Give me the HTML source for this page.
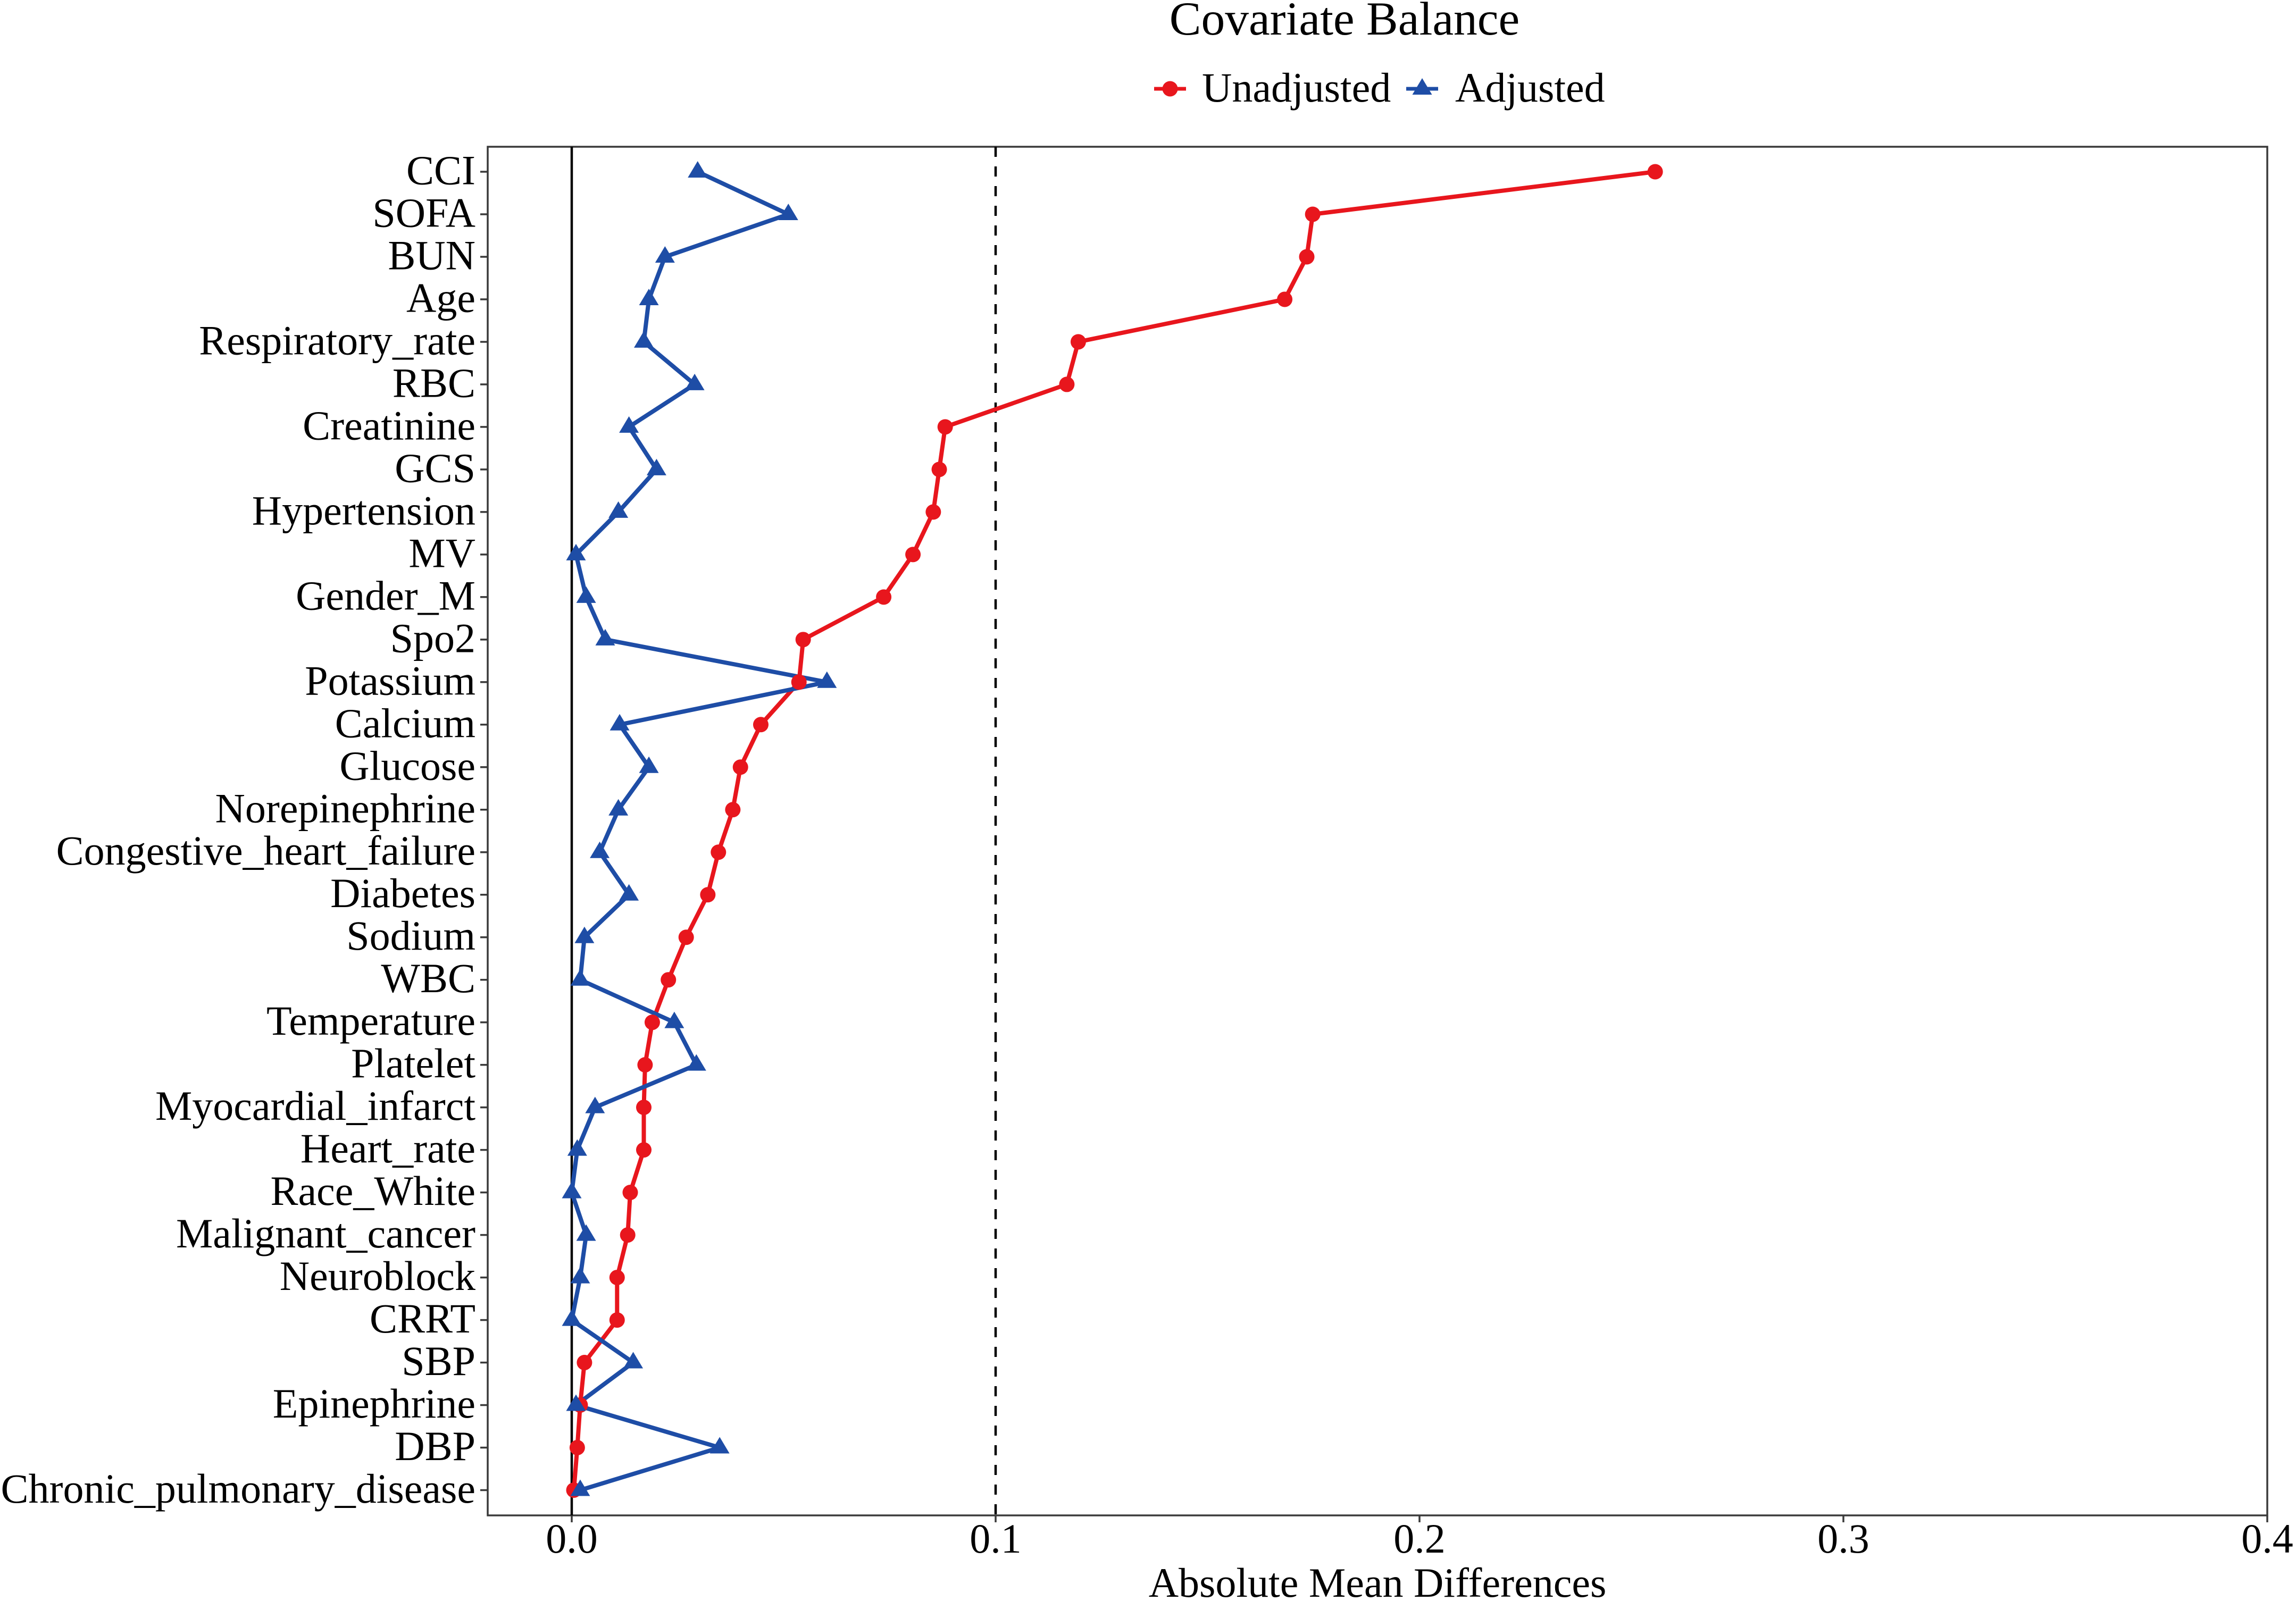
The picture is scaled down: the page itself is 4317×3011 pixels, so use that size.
<!DOCTYPE html>
<html lang="en">
<head>
<meta charset="utf-8">
<title>Covariate Balance</title>
<style>
html,body{margin:0;padding:0;background:#fff;}
body{width:4317px;height:3011px;overflow:hidden;}
svg{display:block;}
text{font-family:"Liberation Serif",serif;fill:#000;}
</style>
</head>
<body>
<svg id="chart" xmlns="http://www.w3.org/2000/svg" width="4317" height="3011" viewBox="0 0 4317 3011">
  <text x="2528" y="65" font-size="89.5" text-anchor="middle">Covariate Balance</text>
  <g>
    <g>
      <line x1="2170" x2="2230" y1="167" y2="167" stroke="#e8161d" stroke-width="7"/>
      <circle cx="2200" cy="167" r="14.5" fill="#e8161d"/>
      <text x="2260" y="191" font-size="78">Unadjusted</text>
    </g>
    <g>
      <line x1="2644" x2="2704" y1="167" y2="167" stroke="#1e4da6" stroke-width="7"/>
      <polygon points="2674,147 2692.5,178 2655.5,178" fill="#1e4da6"/>
      <text x="2736" y="191" font-size="78">Adjusted</text>
    </g>
  </g>
  <text x="2590" y="3003" font-size="78" text-anchor="middle">Absolute Mean Differences</text>
  <g id="layer-axes"></g>
  <g id="layer-lines"></g>
  <g id="layer-points"></g>
</svg>
<script>
const categories = ["CCI","SOFA","BUN","Age","Respiratory_rate","RBC","Creatinine","GCS","Hypertension","MV","Gender_M","Spo2","Potassium","Calcium","Glucose","Norepinephrine","Congestive_heart_failure","Diabetes","Sodium","WBC","Temperature","Platelet","Myocardial_infarct","Heart_rate","Race_White","Malignant_cancer","Neuroblock","CRRT","SBP","Epinephrine","DBP","Chronic_pulmonary_disease"];
const unadjusted = [0.2556,0.1748,0.1734,0.1682,0.1195,0.1168,0.0881,0.0867,0.0853,0.0805,0.0736,0.0546,0.0536,0.0446,0.0398,0.038,0.0346,0.0321,0.027,0.0228,0.019,0.0173,0.017,0.017,0.0138,0.0132,0.0107,0.0107,0.003,0.002,0.0013,0.0005];
const adjusted = [0.0297,0.0511,0.022,0.0182,0.017,0.029,0.0135,0.02,0.011,0.001,0.0034,0.0079,0.0602,0.0113,0.0182,0.011,0.0066,0.0135,0.003,0.002,0.0242,0.0294,0.0055,0.0013,0,0.0034,0.002,0,0.0145,0.001,0.0349,0.002];
const xTicks = [0,0.1,0.2,0.3,0.4];
const xTickLabels = ["0.0","0.1","0.2","0.3","0.4"];
const zeroReference = 0;
const thresholdReference = 0.1;

const NS = "http://www.w3.org/2000/svg";
const plot = {left:917, right:4263, top:276, bottom:2850};
const RED = "#e8161d";
const BLUE = "#1e4da6";

function xScale(v){ return 1075 + v * 7970; }
function yScale(i){ return 323 + i * (2802.5 - 323) / (categories.length - 1); }

function make(tag, attrs, parent){
  const el = document.createElementNS(NS, tag);
  for (const k in attrs) el.setAttribute(k, attrs[k]);
  parent.appendChild(el);
  return el;
}

const axes = document.getElementById("layer-axes");
const linesLayer = document.getElementById("layer-lines");
const pointsLayer = document.getElementById("layer-points");

const frame = make("rect", {x:plot.left, y:plot.top, width:plot.right-plot.left, height:plot.bottom-plot.top, fill:"none", stroke:"#3a3a3a", "stroke-width":3.5}, axes);



categories.forEach(function(name, i){
  const tick = make("line", {x1:903, x2:plot.left, y1:yScale(i), y2:yScale(i), stroke:"#3a3a3a", "stroke-width":3.5}, axes);
  
  
  const label = make("text", {x:894, y:yScale(i)+23.5, "font-size":78, "text-anchor":"end"}, axes);
  
  
  label.textContent = name;
});

xTicks.forEach(function(v, i){
  const tick = make("line", {x1:xScale(v), x2:xScale(v), y1:plot.bottom, y2:2863, stroke:"#3a3a3a", "stroke-width":3.5}, axes);
  
  
  const label = make("text", {x:xScale(v), y:2920, "font-size":78, "text-anchor":"middle"}, axes);
  
  
  label.textContent = xTickLabels[i];
});

const zeroLine = make("line", {x1:xScale(zeroReference), x2:xScale(zeroReference), y1:plot.top, y2:plot.bottom, stroke:"#000", "stroke-width":4.5}, axes);



const thresholdLine = make("line", {x1:xScale(thresholdReference), x2:xScale(thresholdReference), y1:plot.top, y2:plot.bottom, stroke:"#000", "stroke-width":4.5, "stroke-dasharray":"19 18"}, axes);



function polyPoints(values){
  return values.map(function(v,i){ return xScale(v).toFixed(1) + "," + yScale(i).toFixed(1); }).join(" ");
}

const lineUnadjusted = make("polyline", {points:polyPoints(unadjusted), fill:"none", stroke:RED, "stroke-width":8, "stroke-linejoin":"round"}, linesLayer);



const lineAdjusted = make("polyline", {points:polyPoints(adjusted), fill:"none", stroke:BLUE, "stroke-width":8, "stroke-linejoin":"round"}, linesLayer);



unadjusted.forEach(function(v, i){
  const pt = make("circle", {cx:xScale(v), cy:yScale(i), r:14.5, fill:RED}, pointsLayer);
  
  
});

adjusted.forEach(function(v, i){
  const x = xScale(v), y = yScale(i);
  const pts = x + "," + (y-20) + " " + (x+18.5) + "," + (y+11) + " " + (x-18.5) + "," + (y+11);
  const pt = make("polygon", {points:pts, fill:BLUE}, pointsLayer);
  
  
});
</script>
</body>
</html>
